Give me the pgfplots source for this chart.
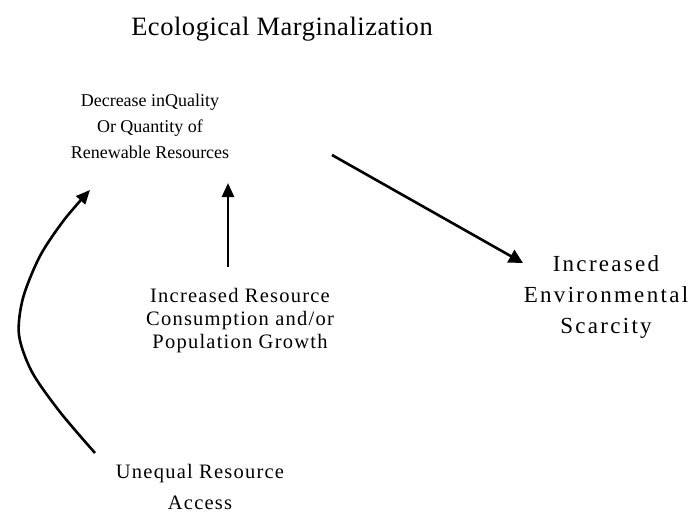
\documentclass[border=0pt]{standalone}
\usepackage{pgfplots}
\pgfplotsset{compat=1.18}
\usepackage{fontspec}
\setmainfont{Liberation Serif}
\newfontfamily\spA[LetterSpace=6]{Liberation Serif}
\newfontfamily\spB[LetterSpace=10]{Liberation Serif}
\newfontfamily\spC[LetterSpace=6]{Liberation Serif}
\newfontfamily\spT[LetterSpace=2]{Liberation Serif}
\usetikzlibrary{arrows.meta}
\begin{document}
\begin{tikzpicture}
\begin{axis}[
  width=695pt, height=512pt, scale only axis,
  xmin=0, xmax=695, ymin=0, ymax=512, y dir=reverse,
  hide axis, clip=false,
]
\addplot[draw=none] coordinates {(0,0) (695,512)};
% arrows
\addplot[black, line width=2.6pt, -{Triangle[length=14pt,width=14pt]}] coordinates {(332,155) (523,263)};
\addplot[black, line width=2.6pt, -{Triangle[length=14pt,width=12pt]}] coordinates {(228,267) (228,183)};
\addplot[black, line width=2.6pt, smooth, -{Triangle[length=14pt,width=12pt]}] coordinates {(95,453) (60,412) (32,372) (19,335) (23,298) (40,256) (64,220) (90,190)};
% texts
\node[align=center, font=\spT\fontsize{26.5}{30}\selectfont] at (axis cs:282,29) {Ecological Marginalization};
\node[align=center, font=\fontsize{18}{26}\selectfont] at (axis cs:150,126) {Decrease inQuality\\Or Quantity of\\Renewable Resources};
\node[align=center, font=\spA\fontsize{20.5}{23}\selectfont] at (axis cs:240,321) {Increased Resource\\Consumption and/or\\Population Growth};
\node[align=center, font=\spB\fontsize{23}{31}\selectfont] at (axis cs:606,297) {Increased\\Environmental\\Scarcity};
\node[align=center, font=\spC\fontsize{20.5}{31}\selectfont] at (axis cs:200,487) {Unequal Resource\\Access};
\end{axis}
\end{tikzpicture}
\end{document}
